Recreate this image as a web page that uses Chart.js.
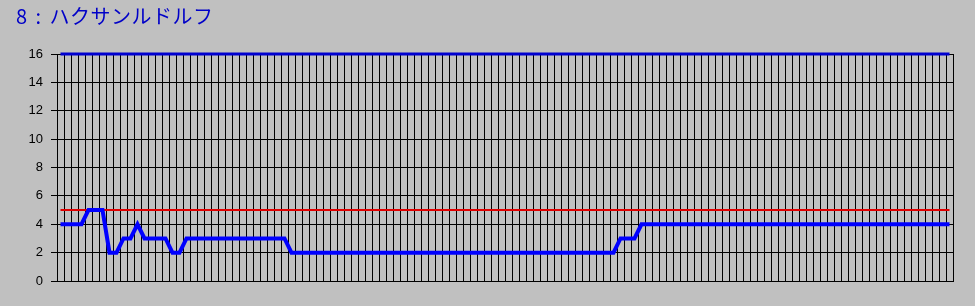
<!DOCTYPE html>
<html>
<head>
<meta charset="utf-8">
<script src="https://cdn.jsdelivr.net/npm/chart.js@4"></script>
<style>
    html, body { margin: 0; padding: 0; background: #c0c0c0; }
    #wrap { position: relative; width: 975px; height: 306px; }
    #title {
        position: absolute; left: 16px; top: 1px;
        font-family: "Noto Sans CJK JP", sans-serif; font-size: 20px;
        letter-spacing: 0.5px; word-spacing: 3px;
        color: #0000c8; white-space: nowrap;
    }
</style>
</head>
<body>
<div id="wrap">
    <div id="title">8 : ハクサンルドルフ</div>
    <canvas id="raceChart" width="975" height="306"></canvas>
</div>
<script>
// Values, one per race slot (128 slots)
const runs = [
    [4, 4], [5, 3], [2, 2], [3, 2], [4, 1], [3, 4], [2, 2], [3, 15],
    [2, 47], [3, 3], [4, 45]
];
const horseValues = [];
runs.forEach(function(r) {
    for (let i = 0; i < r[1]; i++) horseValues.push(r[0]);
});
const slotLabels = horseValues.map((v, i) => String(i + 1));
const limitValues = slotLabels.map(() => 5);
const topValues = slotLabels.map(() => 16);
const yTicks = [0, 2, 4, 6, 8, 10, 12, 14, 16];

window.addEventListener("DOMContentLoaded", function() {
    const ctx = document.getElementById('raceChart').getContext('2d');
    window.currentChart = new Chart(ctx, {
        type: 'line',
        data: {
            labels: slotLabels,
            datasets: [{
                label: 'horse',
                data: horseValues,
                borderColor: '#0000ff',
                borderWidth: 4,
                pointRadius: 0,
                tension: 0,
                order: 0
            }, {
                label: 'limit',
                data: limitValues,
                borderColor: '#e00000',
                borderWidth: 2,
                pointRadius: 0,
                order: 1
            }, {
                label: 'top',
                data: topValues,
                borderColor: '#0000d0',
                borderWidth: 3,
                pointRadius: 0,
                clip: false,
                order: 2
            }]
        },
        options: {
            responsive: false,
            animation: false,
            layout: { padding: { top: 54, right: 22, bottom: 25, left: 0 } },
            plugins: {
                legend: { display: false },
                tooltip: { enabled: false }
            },
            scales: {
                x: {
                    offset: true,
                    grid: { offset: true, color: '#000000', drawTicks: false, lineWidth: 1 },
                    border: { color: '#000000' },
                    ticks: { display: false },
                    afterFit: function(scale) { scale.height = 0; }
                },
                y: {
                    min: 0,
                    max: 16,
                    afterBuildTicks: function(scale) {
                        scale.ticks = yTicks.map(v => ({ value: v }));
                    },
                    grid: { color: '#000000', tickLength: 6, lineWidth: 1 },
                    border: { color: '#000000' },
                    ticks: {
                        color: '#000000',
                        padding: 8,
                        font: { family: 'Liberation Sans', size: 13 }
                    },
                    afterFit: function(scale) { scale.width = 57; }
                }
            }
        }
    });
});
</script>
</body>
</html>
